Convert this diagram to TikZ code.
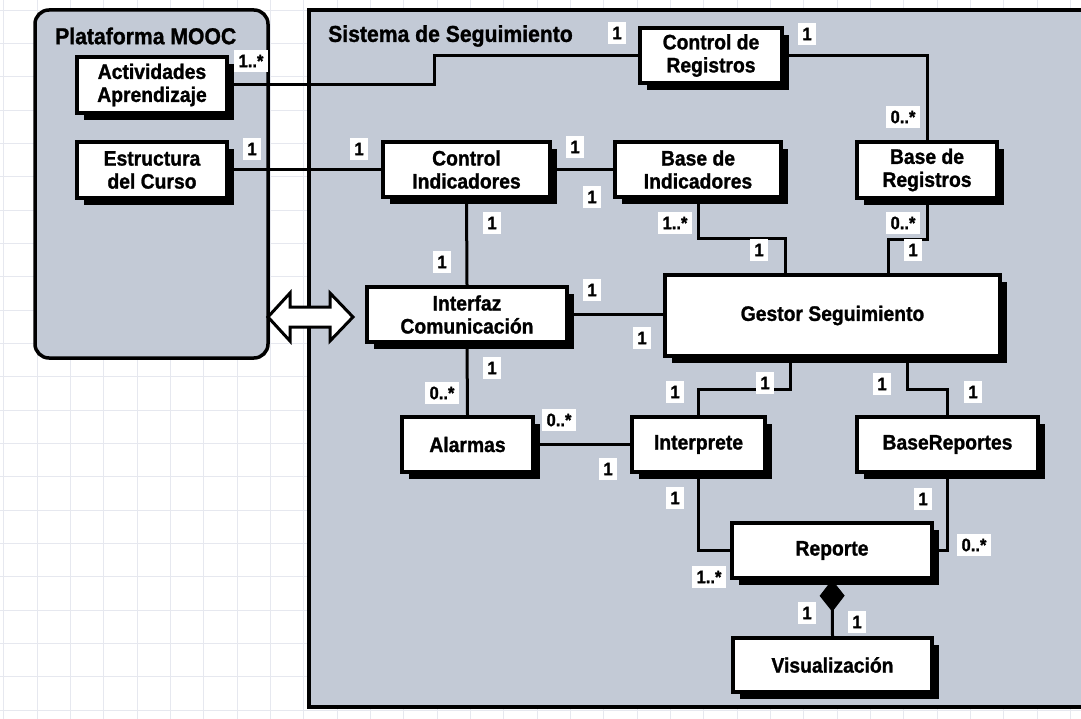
\documentclass[tikz,border=0pt]{standalone}
\usepackage{fontspec}
\setmainfont{Liberation Sans}[FakeStretch=0.92, BoldFeatures={FakeBold=1.2}]
\usetikzlibrary{shadows,arrows.meta}
\definecolor{pane}{HTML}{C3CAD6}
\definecolor{gridc}{HTML}{E6E8EF}
\begin{document}
\begin{tikzpicture}[x=1pt,y=-1pt,
  cls/.style={draw=black, line width=3.5pt, fill=white, align=center,
    font=\fontsize{21}{23}\selectfont\bfseries, inner sep=0pt,
    drop shadow={shadow xshift=7pt, shadow yshift=-7pt, fill=black, opacity=1}},
  lab/.style={fill=white, inner xsep=4.5pt, inner ysep=0pt, minimum height=22pt,
    font=\fontsize{18}{20}\selectfont\bfseries},
  conn/.style={line width=3pt, draw=black},
  ttl/.style={anchor=west, inner sep=0pt, font=\fontsize{23}{25}\selectfont\bfseries}]
\useasboundingbox (0,0) rectangle (1081,719);
\fill[white] (0,0) rectangle (1081,719);
\foreach \i in {0,...,32} \draw[gridc, line width=0.6pt] (3.7+33.33*\i,0) -- (3.7+33.33*\i,719);
\foreach \j in {0,...,21} \draw[gridc, line width=0.6pt] (0,10+33.33*\j) -- (1081,10+33.33*\j);
% containers
\draw[line width=3.5pt, fill=pane, rounded corners=14pt] (35,10) rectangle (268,358);
\draw[line width=3.5pt, fill=pane] (309,10) rectangle (1100,707);
\node[ttl] (tmooc) at (55,36) {Plataforma MOOC};
\node[ttl] (tsis) at (328,36) {Sistema de Seguimiento};
% classes
\node[cls, minimum width=150pt, minimum height=56pt] (act) at (152,85) {Actividades\\Aprendizaje};
\node[cls, minimum width=150pt, minimum height=56pt] (est) at (152,170) {Estructura\\del Curso};
\node[cls, minimum width=142pt, minimum height=55pt] (creg) at (711,55.5) {Control de\\Registros};
\node[cls, minimum width=167pt, minimum height=55pt] (cind) at (466.5,169.5) {Control\\Indicadores};
\node[cls, minimum width=166pt, minimum height=55pt] (bind) at (698,169.5) {Base de\\Indicadores};
\node[cls, minimum width=140pt, minimum height=56pt] (breg) at (927,170) {Base de\\Registros};
\node[cls, minimum width=200pt, minimum height=55pt] (intf) at (467,314.5) {Interfaz\\Comunicación};
\node[cls, minimum width=335pt, minimum height=81pt] (gest) at (832.5,315.5) {Gestor Seguimiento};
\node[cls, minimum width=131pt, minimum height=55pt] (alar) at (467.5,444.5) {Alarmas};
\node[cls, minimum width=133pt, minimum height=55pt] (interp) at (698.5,444.5) {Interprete};
\node[cls, minimum width=181pt, minimum height=55pt] (brep) at (947.5,444.5) {BaseReportes};
\node[cls, minimum width=200pt, minimum height=55pt] (rep) at (832,550.5) {Reporte};
\node[cls, minimum width=199pt, minimum height=54pt] (vis) at (832.5,665) {Visualización};
% connectors
\draw[conn] (act.east) -- ++(206,0) |- (creg.west);
\draw[conn] (creg.east) -| (breg.north);
\draw[conn] (est.east) -- (est.east -| cind.west);
\draw[conn] (cind.east) -- (bind.west);
\draw[conn] (cind.south) -- (intf.north);
\draw[conn] (bind.south) -- ++(0,40) -| ([xshift=-47.5pt]gest.north);
\draw[conn] (breg.south) -- ++(0,40) -| ([xshift=56pt]gest.north);
\draw[conn] (intf.east) -- (intf.east -| gest.west);
\draw[conn] (intf.south) -- (alar.north);
\draw[conn] (alar.east) -- (interp.west);
\draw[conn] ([xshift=-42.5pt]gest.south) -- ++(0,32) -| (interp.north);
\draw[conn] ([xshift=74.5pt]gest.south) -- ++(0,32) -| (brep.north);
\draw[conn] (interp.south) |- (rep.west);
\draw[conn] (brep.south) |- (rep.east);
\draw[conn, -{Diamond[fill=black, length=32pt, width=25pt, line width=1pt]}] (vis.north) -- (rep.south);
% double arrow
\draw[line width=3pt, fill=white, line join=miter] (268,317) -- (290,293) -- (290,307) -- (330,307) -- (330,293) -- (353,317) -- (330,341) -- (330,327) -- (290,327) -- (290,341) -- cycle;
% multiplicities
\node[lab] (l1) at (251,61) {1..*};
\node[lab] (l2) at (252,149) {1};
\node[lab] (l3) at (359,149) {1};
\node[lab] (l4) at (575,147) {1};
\node[lab] (l5) at (592,197) {1};
\node[lab] (l6) at (492,223) {1};
\node[lab] (l7) at (675,223) {1..*};
\node[lab] (l8) at (617,33) {1};
\node[lab] (l9) at (807,34) {1};
\node[lab] (l10) at (903,117) {0..*};
\node[lab] (l11) at (903,223) {0..*};
\node[lab] (l12) at (913,250) {1};
\node[lab] (l13) at (759,250) {1};
\node[lab] (l14) at (442,262) {1};
\node[lab] (l15) at (592,290) {1};
\node[lab] (l16) at (642,338) {1};
\node[lab] (l17) at (492,368) {1};
\node[lab] (l18) at (442,393) {0..*};
\node[lab] (l19) at (559,420) {0..*};
\node[lab] (l20) at (608,469) {1};
\node[lab] (l21) at (675,392) {1};
\node[lab] (l22) at (765,383) {1};
\node[lab] (l23) at (882,384) {1};
\node[lab] (l24) at (973,392) {1};
\node[lab] (l25) at (675,498) {1};
\node[lab] (l26) at (923,499) {1};
\node[lab] (l27) at (709,577) {1..*};
\node[lab] (l28) at (974,545) {0..*};
\node[lab] (l29) at (807,613) {1};
\node[lab] (l30) at (857,622) {1};
\end{tikzpicture}
\end{document}
